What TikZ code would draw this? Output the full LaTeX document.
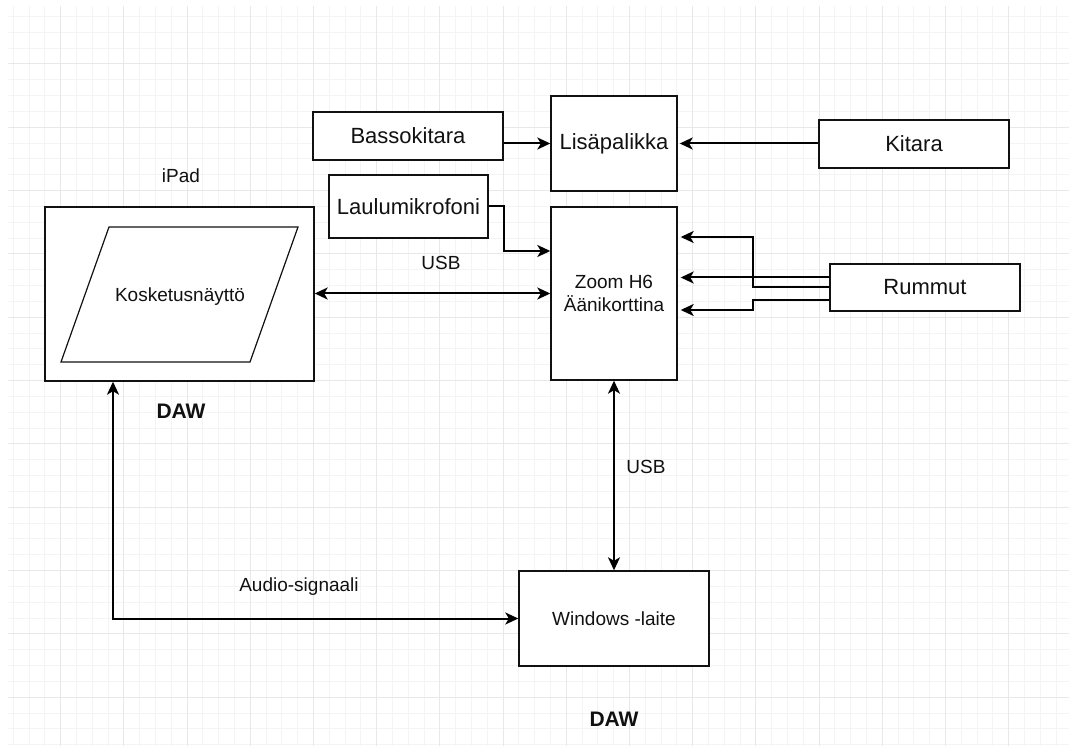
\documentclass[tikz,border=0pt]{standalone}
\usepackage{fontspec}
\setmainfont{Liberation Sans}
\usetikzlibrary{arrows.meta,calc}
\definecolor{minorg}{HTML}{F4F4F4}
\definecolor{majorg}{HTML}{E8E8E8}
\definecolor{ink}{HTML}{111111}
\begin{document}
\begin{tikzpicture}[x=1pt,y=-1pt,
  minorgrid/.style={draw=minorg,line width=1pt},
  majorgrid/.style={draw=majorg,line width=1pt},
  box/.style={draw=ink,line width=1.4pt,fill=white,inner sep=0pt,text=ink},
  bigtxt/.style={font=\fontsize{22}{26}\selectfont},
  smalltxt/.style={font=\fontsize{19}{23}\selectfont},
  lbl/.style={inner sep=0pt,text=ink,font=\fontsize{19}{23}\selectfont},
  dawlbl/.style={inner sep=0pt,text=ink,font=\fontsize{21}{25}\selectfont\bfseries},
  arr/.style={draw=black,line width=2pt,-{Stealth[length=13pt,width=12pt,inset=3.5pt]}},
  darr/.style={draw=black,line width=2pt,{Stealth[length=13pt,width=12pt,inset=3.5pt]}-{Stealth[length=13pt,width=12pt,inset=3.5pt]}}
]
\useasboundingbox (0,0) rectangle (1069,746);
\fill[white] (0,0) rectangle (1069,746);
% grid
\begin{scope}
\clip (8,7) rectangle (1069,746);
\foreach \i in {0,...,68} {\draw[minorgrid] ({-2.5+15.8*\i},0) -- ({-2.5+15.8*\i},746);}
\foreach \j in {0,...,47} {\draw[minorgrid] (0,{0.67+15.83*\j}) -- (1069,{0.67+15.83*\j});}
\foreach \i in {0,...,17} {\draw[majorgrid] ({-2.5+63.2*\i},0) -- ({-2.5+63.2*\i},746);}
\foreach \j in {0,...,11} {\draw[majorgrid] (0,{0.67+63.33*\j}) -- (1069,{0.67+63.33*\j});}
\end{scope}

% boxes
\node[box,bigtxt,minimum width=190pt,minimum height=48pt] (bass) at (408,136) {Bassokitara};
\node[box,bigtxt,minimum width=126pt,minimum height=95pt] (lisa) at (614,143.5) {Lisäpalikka};
\node[box,bigtxt,minimum width=190pt,minimum height=48pt] (kitara) at (914,144) {Kitara};
\node[box,bigtxt,minimum width=159pt,minimum height=63pt] (laulu) at (408.5,206.5) {Laulumikrofoni};
\node[box,smalltxt,align=center,minimum width=126pt,minimum height=173pt] (zoom) at (614,293.5) {Zoom H6\\Äänikorttina};
\node[box,bigtxt,minimum width=190pt,minimum height=47pt] (rummut) at (925,287.5) {Rummut};
\node[box,minimum width=269pt,minimum height=174pt] (ipad) at (179.5,294) {};
\node[box,smalltxt,minimum width=190pt,minimum height=95pt] (win) at (614,618.5) {Windows -laite};

% parallelogram (touch screen)
\coordinate (p1) at (109,227);
\coordinate (p2) at (298,227);
\coordinate (p3) at (250,362);
\coordinate (p4) at (61,362);
\draw[draw=ink,line width=1.2pt] (p1) -- (p2) -- (p3) -- (p4) -- cycle;
\node[lbl] (kos) at (180,297) {Kosketusnäyttö};

% labels
\node[lbl] (ipadl) at (181,176) {iPad};
\node[lbl] (usb1) at (441,263) {USB};
\node[lbl] (usb2) at (646,467) {USB};
\node[lbl] (audio) at (299,587) {Audio-signaali};
\node[dawlbl] (daw1) at (181,411) {DAW};
\node[dawlbl] (daw2) at (614,719) {DAW};

% connectors
\draw[arr] (bass.east |- lisa.west) -- (lisa.west);
\draw[arr] (kitara.west |- lisa.east) -- ([xshift=2pt]lisa.east);
\draw[arr] (laulu.east) -- ++(15,0) |- ($(zoom.west)+(0,-42.5)$);
\draw[arr] ($(rummut.west)+(0,-10)$) -- ++(-76,0) -- ($(zoom.east)+(3,-16)$);
\draw[arr] (rummut.west) -- ++(-76,0) |- ($(zoom.east)+(3,-56.5)$);
\draw[arr] ($(rummut.west)+(0,12.5)$) -- ++(-76,0) |- ($(zoom.east)+(3,16.5)$);
\draw[darr] (ipad.east |- zoom.west) -- (zoom.west);
\draw[darr] (zoom.south) -- (win.north);
\draw[darr] ($(ipad.south)+(-66.5,0)$) |- (win.west);
\end{tikzpicture}
\end{document}
